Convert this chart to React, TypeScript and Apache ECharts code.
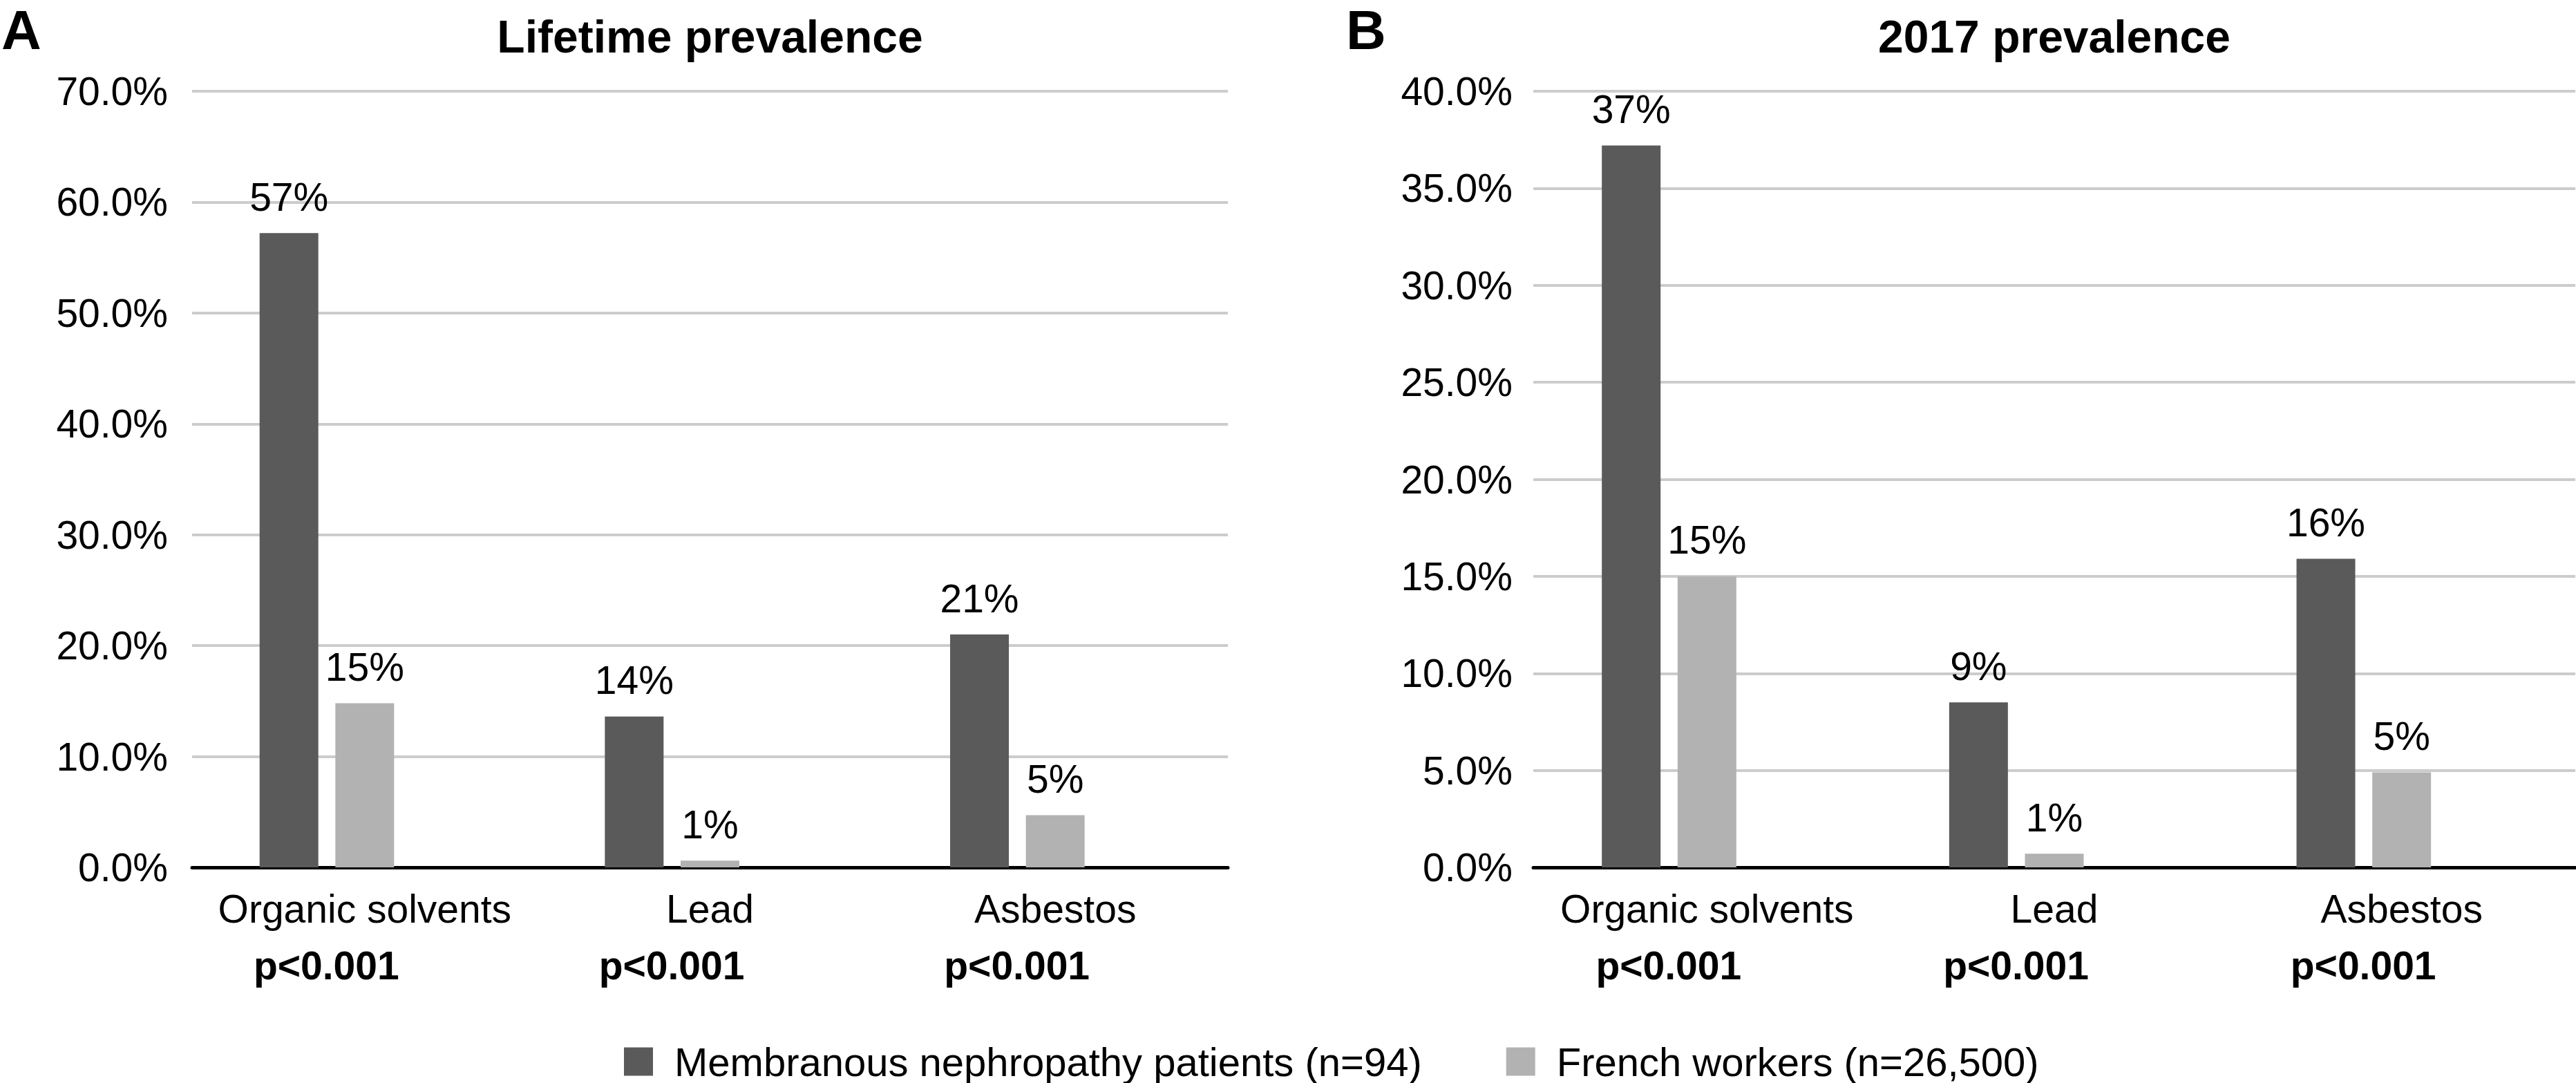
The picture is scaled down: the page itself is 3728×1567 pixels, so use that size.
import React, { useEffect, useRef } from 'react';
import * as echarts from 'echarts';

// ---- Data ----
const categories = ['Organic solvents', 'Lead', 'Asbestos'];
const pValues = ['p<0.001', 'p<0.001', 'p<0.001'];
const seriesNames = ['Membranous nephropathy patients (n=94)', 'French workers (n=26,500)'];

const lifetimePatients = [57.2, 13.6, 21.0];
const lifetimeWorkers = [14.8, 0.6, 4.7];
const prev2017Patients = [37.2, 8.5, 15.9];
const prev2017Workers = [15.0, 0.7, 4.9];

const lifetimeAxis = { min: 0, max: 70, interval: 10 };
const prev2017Axis = { min: 0, max: 40, interval: 5 };

const panelTitles = ['Lifetime prevalence', '2017 prevalence'];
const panelLetters = ['A', 'B'];

// ---- Style ----
const FONT = '"Liberation Sans", Arial, Helvetica, sans-serif';
const DARK = '#5a5a5a';
const LIGHT = '#b2b2b2';

export default function App() {
  const ref = useRef<HTMLDivElement>(null);

  useEffect(() => {
    if (!ref.current) return;
    const chart = echarts.init(ref.current, undefined, { renderer: 'svg' });

    const grids = [
      { left: 278, top: 132, width: 1499, height: 1123 },
      { left: 2219, top: 132, width: 1508, height: 1123 },
    ];
    const axes = [lifetimeAxis, prev2017Axis];
    const labelMargins = [35, 30];
    const panelData = [
      [lifetimePatients, lifetimeWorkers],
      [prev2017Patients, prev2017Workers],
    ];

    const xAxis = grids.map((_, i) => ({
      type: 'category',
      gridIndex: i,
      data: categories,
      axisLine: { show: true, lineStyle: { color: '#000', width: 5 } },
      axisTick: { show: false },
      splitLine: { show: false },
      axisLabel: {
        interval: 0,
        margin: 19,
        formatter: (v: string, idx: number) => `{c|${v}}\n{p|${pValues[idx]}}`,
        rich: {
          c: { fontSize: 57, fontFamily: FONT, color: '#000', lineHeight: 82 },
          p: {
            fontSize: 57,
            fontFamily: FONT,
            fontWeight: 'bold',
            color: '#000',
            lineHeight: 82,
            padding: [0, 111, 0, 0],
          },
        },
      },
    }));

    const yAxis = grids.map((_, i) => ({
      type: 'value',
      gridIndex: i,
      min: axes[i].min,
      max: axes[i].max,
      interval: axes[i].interval,
      axisLine: { show: false },
      axisTick: { show: false },
      splitLine: { show: true, lineStyle: { color: '#cccccc', width: 4 } },
      axisLabel: {
        margin: labelMargins[i],
        fontSize: 57,
        fontFamily: FONT,
        color: '#000',
        formatter: (v: number) => v.toFixed(1) + '%',
      },
    }));

    const labelCfg = {
      show: true,
      position: 'top',
      distance: 24,
      fontSize: 57,
      fontFamily: FONT,
      color: '#000',
      formatter: (p: any) => Math.round(p.value) + '%',
    };

    const series: any[] = [];
    grids.forEach((_, i) => {
      series.push({
        type: 'bar',
        name: seriesNames[0],
        xAxisIndex: i,
        yAxisIndex: i,
        data: panelData[i][0],
        barWidth: 85,
        barGap: '29%',
        itemStyle: { color: DARK },
        label: labelCfg,
      });
      series.push({
        type: 'bar',
        name: seriesNames[1],
        xAxisIndex: i,
        yAxisIndex: i,
        data: panelData[i][1],
        barWidth: 85,
        barGap: '29%',
        itemStyle: { color: LIGHT },
        label: labelCfg,
      });
      // empty third series (keeps the original layout slot)
      series.push({
        type: 'bar',
        name: 'spacer',
        xAxisIndex: i,
        yAxisIndex: i,
        data: ['-', '-', '-'],
        barWidth: 85,
        barGap: '29%',
        itemStyle: { color: 'transparent' },
      });
    });

    const graphic = [
      {
        type: 'text',
        x: 2,
        y: 43,
        style: { text: panelLetters[0], font: `bold 80px ${FONT}`, fill: '#000', align: 'left', verticalAlign: 'middle' },
      },
      {
        type: 'text',
        x: 1948,
        y: 43,
        style: { text: panelLetters[1], font: `bold 80px ${FONT}`, fill: '#000', align: 'left', verticalAlign: 'middle' },
      },
      {
        type: 'text',
        x: 1027.5,
        y: 53,
        style: { text: panelTitles[0], font: `bold 66px ${FONT}`, fill: '#000', align: 'center', verticalAlign: 'middle' },
      },
      {
        type: 'text',
        x: 2973,
        y: 53,
        style: { text: panelTitles[1], font: `bold 66px ${FONT}`, fill: '#000', align: 'center', verticalAlign: 'middle' },
      },
    ];

    chart.setOption({
      animation: false,
      backgroundColor: '#fff',
      textStyle: { fontFamily: FONT },
      grid: grids.map((g) => ({ ...g, containLabel: false })),
      xAxis,
      yAxis,
      series,
      legend: {
        data: seriesNames,
        left: 903,
        top: 1507,
        padding: 0,
        icon: 'rect',
        itemWidth: 42,
        itemHeight: 41,
        itemGap: 122,
        selectedMode: false,
        textStyle: { fontSize: 58, fontFamily: FONT, color: '#000', padding: [0, 0, 0, 26] },
      },
      graphic,
    });

    return () => chart.dispose();
  }, []);

  return (
    <div
      ref={ref}
      style={{ position: 'fixed', left: 0, top: 0, width: 3728, height: 1567, background: '#fff' }}
    />
  );
}
